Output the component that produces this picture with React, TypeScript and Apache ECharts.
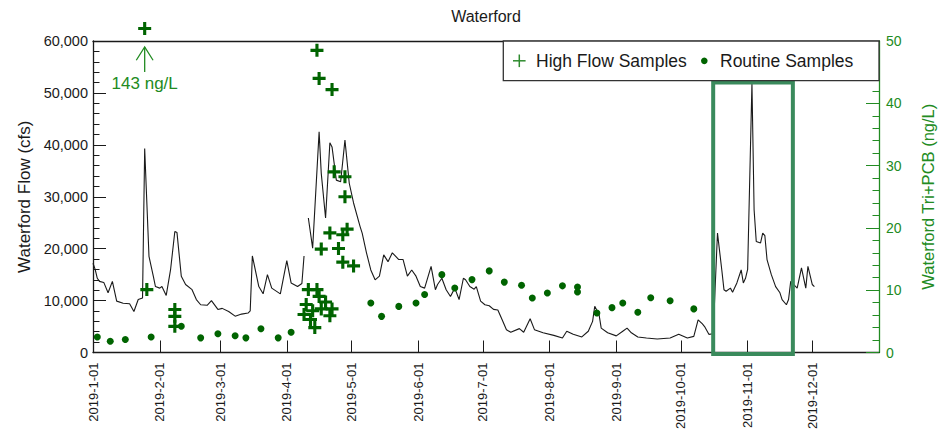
import React, { useEffect, useRef } from 'react';
import * as echarts from 'echarts';

// ---------------- data ----------------
const TITLE = 'Waterford';
const FLOW_NAME = 'Waterford Flow (cfs)';
const CONC_NAME = 'Waterford Tri+PCB (ng/L)';
const HIGH_FLOW_NAME = 'High Flow Samples';
const ROUTINE_NAME = 'Routine Samples';

const MONTH_TICKS = [
  '2019-01-01', '2019-02-01', '2019-03-01', '2019-04-01', '2019-05-01', '2019-06-01',
  '2019-07-01', '2019-08-01', '2019-09-01', '2019-10-01', '2019-11-01', '2019-12-01',
];

// daily flow (cfs), null = gap in record
const FLOW: [string, number | null][] = [
  ['2019-01-01', 17200], ['2019-01-02', 16000], ['2019-01-03', 14300], ['2019-01-04', 13700],
  ['2019-01-06', 13500], ['2019-01-08', 11500], ['2019-01-10', 13700], ['2019-01-12', 9900],
  ['2019-01-15', 9500], ['2019-01-18', 9400], ['2019-01-20', 7900], ['2019-01-22', 10200],
  ['2019-01-24', 10500], ['2019-01-25', 39300], ['2019-01-27', 18500], ['2019-01-29', 14700],
  ['2019-01-30', 12700], ['2019-02-01', 12400], ['2019-02-02', 12700], ['2019-02-04', 11000],
  ['2019-02-06', 15900], ['2019-02-08', 23300], ['2019-02-09', 23100], ['2019-02-11', 14700],
  ['2019-02-13', 13100], ['2019-02-16', 12100], ['2019-02-18', 10200], ['2019-02-20', 9200],
  ['2019-02-23', 9100], ['2019-02-25', 10000], ['2019-02-28', 8300], ['2019-03-02', 8500],
  ['2019-03-05', 7900], ['2019-03-08', 7000], ['2019-03-11', 7400], ['2019-03-14', 7600],
  ['2019-03-15', 8000], ['2019-03-16', 18600], ['2019-03-19', 12700], ['2019-03-21', 11300],
  ['2019-03-23', 15000], ['2019-03-25', 12400], ['2019-03-29', 11300], ['2019-04-01', 17700],
  ['2019-04-03', 13400], ['2019-04-06', 12700], ['2019-04-08', 13300], ['2019-04-09', 18600],
  ['2019-04-10', null],
  ['2019-04-11', 25900], ['2019-04-13', 20100], ['2019-04-16', 42500], ['2019-04-17', 34500],
  ['2019-04-19', 25900], ['2019-04-21', 40400], ['2019-04-22', 39600], ['2019-04-24', 33200],
  ['2019-04-26', 32900], ['2019-04-28', 40900], ['2019-04-30', 32600], ['2019-05-02', 28800],
  ['2019-05-05', 24300], ['2019-05-06', 23000], ['2019-05-08', 19200], ['2019-05-10', 15900],
  ['2019-05-12', 14000], ['2019-05-14', 14700], ['2019-05-16', 18800], ['2019-05-18', 17500],
  ['2019-05-20', 19200], ['2019-05-23', 17900], ['2019-05-25', 17900], ['2019-05-27', 14700],
  ['2019-05-29', 15900], ['2019-05-31', 14700], ['2019-06-02', 12700], ['2019-06-04', 12400],
  ['2019-06-07', 16600], ['2019-06-09', 12100], ['2019-06-10', 13100], ['2019-06-12', 14300],
  ['2019-06-14', 12100], ['2019-06-16', 10800], ['2019-06-18', 12400], ['2019-06-20', 10200],
  ['2019-06-22', 14300], ['2019-06-23', 14000], ['2019-06-25', 12700], ['2019-06-27', 12200],
  ['2019-06-28', 12700], ['2019-06-30', 9900], ['2019-07-02', 9200], ['2019-07-04', 9000],
  ['2019-07-06', 8300], ['2019-07-08', 8200], ['2019-07-10', 6300], ['2019-07-12', 4400],
  ['2019-07-14', 3900], ['2019-07-18', 4600], ['2019-07-20', 3900], ['2019-07-23', 6500],
  ['2019-07-25', 4400], ['2019-07-29', 3800], ['2019-08-03', 3300], ['2019-08-07', 2800],
  ['2019-08-09', 4100], ['2019-08-12', 3500], ['2019-08-16', 3000], ['2019-08-19', 4100],
  ['2019-08-21', 6000], ['2019-08-22', 8900], ['2019-08-24', 7300], ['2019-08-25', 4700],
  ['2019-08-28', 3800], ['2019-09-01', 3200], ['2019-09-04', 4100], ['2019-09-06', 4700],
  ['2019-09-08', 3800], ['2019-09-11', 3000], ['2019-09-15', 2800], ['2019-09-20', 2600],
  ['2019-09-26', 2800], ['2019-09-30', 3500], ['2019-10-04', 2800], ['2019-10-07', 3100],
  ['2019-10-09', 6300], ['2019-10-11', 5500], ['2019-10-12', 5000], ['2019-10-14', 3500],
  ['2019-10-16', 3600], ['2019-10-17', 13400], ['2019-10-18', 23000], ['2019-10-20', 15900],
  ['2019-10-21', 12100], ['2019-10-22', 11800], ['2019-10-24', 12400], ['2019-10-25', 11600],
  ['2019-10-27', 13400], ['2019-10-29', 15900], ['2019-10-30', 13400], ['2019-10-31', 14300],
  ['2019-11-01', 16000], ['2019-11-03', 51800], ['2019-11-04', 27500], ['2019-11-05', 21400],
  ['2019-11-07', 21100], ['2019-11-08', 23000], ['2019-11-09', 22500], ['2019-11-10', 17900],
  ['2019-11-12', 15000], ['2019-11-14', 12700], ['2019-11-16', 11500], ['2019-11-17', 10200],
  ['2019-11-19', 9200], ['2019-11-20', 10200], ['2019-11-21', 13700], ['2019-11-24', 12400],
  ['2019-11-26', 16300], ['2019-11-28', 12400], ['2019-11-29', 16600], ['2019-12-01', 13100],
  ['2019-12-02', 12700],
];

// Tri+PCB (ng/L)
const HIGH_FLOW: [string, number][] = [
  ['2019-01-26', 10.1],
  ['2019-02-08', 6.9], ['2019-02-08', 5.8], ['2019-02-08', 4.2],
  ['2019-04-09', 6.1], ['2019-04-10', 7.7], ['2019-04-11', 10.1], ['2019-04-12', 5.3],
  ['2019-04-13', 6.7], ['2019-04-14', 4.0], ['2019-04-15', 10.1], ['2019-04-16', 9.0],
  ['2019-04-17', 7.0], ['2019-04-19', 8.1], ['2019-04-21', 5.9], ['2019-04-22', 7.0],
  ['2019-04-15', 48.5], ['2019-04-16', 44.0], ['2019-04-22', 42.2],
  ['2019-04-23', 29.0], ['2019-04-28', 28.2], ['2019-04-28', 25.0], ['2019-04-29', 19.8],
  ['2019-04-27', 18.9], ['2019-04-21', 19.2], ['2019-04-17', 16.6], ['2019-04-25', 16.7],
  ['2019-04-27', 14.5], ['2019-05-02', 13.9],
];
const HIGH_FLOW_OFFSCALE: [string, number][] = [['2019-01-25', 143]];

const ROUTINE: [string, number][] = [
  ['2019-01-03', 2.5], ['2019-01-09', 1.8], ['2019-01-16', 2.1], ['2019-01-28', 2.5],
  ['2019-02-11', 4.2], ['2019-02-20', 2.35], ['2019-02-28', 3.0], ['2019-03-08', 2.7],
  ['2019-03-13', 2.35], ['2019-03-20', 3.8], ['2019-03-28', 2.35], ['2019-04-03', 3.25],
  ['2019-05-10', 7.95], ['2019-05-15', 5.8], ['2019-05-23', 7.4], ['2019-05-31', 7.95],
  ['2019-06-04', 9.3], ['2019-06-12', 12.5], ['2019-06-18', 10.35], ['2019-06-26', 11.7],
  ['2019-07-04', 13.1], ['2019-07-11', 11.3], ['2019-07-19', 10.8], ['2019-07-24', 8.75],
  ['2019-07-31', 9.55], ['2019-08-07', 10.7], ['2019-08-14', 10.5], ['2019-08-14', 9.7],
  ['2019-08-23', 6.35], ['2019-08-30', 7.2], ['2019-09-04', 7.95], ['2019-09-11', 6.45],
  ['2019-09-17', 8.8], ['2019-09-26', 8.3], ['2019-10-07', 7.0],
];

const HIGHLIGHT_DATES = ['2019-10-16', '2019-11-22'];
const HIGHLIGHT_FLOW = [-300, 52000];
const X_RANGE = ['2019-01-01', '2020-01-01'];

// ---------------- styling ----------------
const FONT = '"Liberation Sans", Arial, Helvetica, sans-serif';
const INK = '#1a1a1a';
const GREEN = '#228B22';
const MARK_GREEN = '#006400';
const BOX_GREEN = '#3a8a5c';
const OFFSCALE_PLOT_AT = 52; // where the off-scale sample is drawn on the ng/L axis
const PLUS = 'path://M3.8,0H6.2V3.8H10V6.2H6.2V10H3.8V6.2H0V3.8H3.8Z';

const ts = (s: string) => {
  const [y, m, d] = s.split('-').map(Number);
  return new Date(y, m - 1, d).getTime();
};
const fmtDate = (v: number) => {
  const d = new Date(v);
  return `${d.getFullYear()}-${d.getMonth() + 1}-${String(d.getDate()).padStart(2, '0')}`;
};

export default function App() {
  const ref = useRef<HTMLDivElement>(null);

  useEffect(() => {
    if (!ref.current) return;
    const chart = echarts.init(ref.current, undefined, { renderer: 'svg' });
    const monthTs = MONTH_TICKS.map(ts);
    const markerStyle = { color: MARK_GREEN, opacity: 1 };

    chart.setOption({
      animation: false,
      textStyle: { fontFamily: FONT },
      title: {
        text: TITLE,
        left: 486,
        top: 8,
        padding: 0,
        textAlign: 'center',
        textStyle: { fontSize: 16, fontWeight: 'normal', color: INK, fontFamily: FONT },
      },
      grid: { left: 93, right: 72, top: 41, bottom: 79 },
      xAxis: [
        {
          type: 'value',
          min: ts(X_RANGE[0]),
          max: ts(X_RANGE[1]),
          axisLine: { show: true, onZero: false, lineStyle: { color: INK, width: 1.3 } },
          axisTick: { show: true, inside: true, length: 12, customValues: monthTs, lineStyle: { color: INK, width: 1 } },
          axisLabel: {
            rotate: 90,
            margin: 10,
            fontSize: 13,
            color: INK,
            fontFamily: FONT,
            customValues: monthTs,
            formatter: (v: number) => fmtDate(v),
          },
          splitLine: { show: false },
        },
        {
          type: 'value',
          position: 'top',
          min: 0,
          max: 1,
          axisLine: { show: true, onZero: false, lineStyle: { color: INK, width: 1.3 } },
          axisTick: { show: false },
          axisLabel: { show: false },
          splitLine: { show: false },
        },
      ],
      yAxis: [
        {
          type: 'value',
          position: 'left',
          min: 0,
          max: 60000,
          interval: 10000,
          name: FLOW_NAME,
          nameLocation: 'middle',
          nameGap: 57,
          nameRotate: 90,
          nameTextStyle: { fontSize: 17, color: INK, fontFamily: FONT },
          axisLine: { show: true, onZero: false, lineStyle: { color: INK, width: 1.3 } },
          axisTick: { show: true, inside: true, length: 13, lineStyle: { color: INK, width: 1 } },
          minorTick: { show: true, splitNumber: 5, length: 6.5, lineStyle: { color: INK, width: 1 } },
          axisLabel: {
            fontSize: 14.5,
            margin: 5,
            color: INK,
            fontFamily: FONT,
            formatter: (v: number) => Number(v).toLocaleString('en-US'),
          },
          splitLine: { show: false },
        },
        {
          type: 'value',
          position: 'right',
          min: 0,
          max: 50,
          interval: 10,
          name: CONC_NAME,
          nameLocation: 'middle',
          nameGap: 40,
          nameRotate: 90,
          nameTextStyle: { fontSize: 16.5, color: GREEN, fontFamily: FONT },
          axisLine: { show: true, onZero: false, lineStyle: { color: GREEN, width: 1.3 } },
          axisTick: { show: true, inside: true, length: 13, lineStyle: { color: GREEN, width: 1 } },
          minorTick: { show: true, splitNumber: 5, length: 6.5, lineStyle: { color: GREEN, width: 1 } },
          axisLabel: { fontSize: 14, margin: 7, color: GREEN, fontFamily: FONT },
          splitLine: { show: false },
        },
      ],
      series: [
        {
          name: FLOW_NAME,
          type: 'line',
          xAxisIndex: 0,
          yAxisIndex: 0,
          data: FLOW.map(([d, v]) => [ts(d), v === null ? '-' : v]),
          showSymbol: false,
          symbol: 'none',
          connectNulls: false,
          lineStyle: { color: INK, width: 1.1 },
          z: 2,
        },
        {
          name: HIGH_FLOW_NAME,
          type: 'scatter',
          xAxisIndex: 0,
          yAxisIndex: 1,
          data: HIGH_FLOW.map(([d, v]) => [ts(d), v]),
          symbol: PLUS,
          symbolSize: 13,
          itemStyle: markerStyle,
          z: 3,
        },
        {
          name: HIGH_FLOW_NAME + ' (off scale)',
          type: 'scatter',
          xAxisIndex: 0,
          yAxisIndex: 1,
          clip: false,
          data: HIGH_FLOW_OFFSCALE.map(([d]) => [ts(d), OFFSCALE_PLOT_AT]),
          symbol: PLUS,
          symbolSize: 13,
          itemStyle: markerStyle,
          z: 3,
        },
        {
          name: ROUTINE_NAME,
          type: 'scatter',
          xAxisIndex: 0,
          yAxisIndex: 1,
          data: ROUTINE.map(([d, v]) => [ts(d), v]),
          symbol: 'circle',
          symbolSize: 7,
          itemStyle: markerStyle,
          z: 3,
        },
      ],
    });

    const toPx = (d: string, v: number, yIdx: number) =>
      chart.convertToPixel({ xAxisIndex: 0, yAxisIndex: yIdx } as any, [ts(d), v]) as number[];

    const [bx1, by1] = toPx(HIGHLIGHT_DATES[0], HIGHLIGHT_FLOW[1], 0);
    const [bx2, by2] = toPx(HIGHLIGHT_DATES[1], HIGHLIGHT_FLOW[0], 0);
    const [ax, ay] = toPx(HIGH_FLOW_OFFSCALE[0][0], OFFSCALE_PLOT_AT, 1);

    // legend geometry: box spans from its left edge to the right axis, top aligned with plot
    const [, plotTop] = toPx(X_RANGE[0], 50, 1);
    const [plotRight] = toPx(X_RANGE[1], 0, 1);
    const lgLeft = 503.3;
    const lgH = 39.6;
    const lgMid = plotTop + lgH / 2;

    chart.setOption({
      graphic: [
        {
          type: 'rect',
          z: 50,
          shape: { x: bx1, y: by1, width: bx2 - bx1, height: by2 - by1 },
          style: { fill: 'none', stroke: BOX_GREEN, lineWidth: 4 },
        },
        {
          type: 'line',
          z: 50,
          shape: { x1: ax, y1: ay + 18.4, x2: ax, y2: ay + 43.4 },
          style: { stroke: GREEN, lineWidth: 1.3 },
        },
        {
          type: 'polyline',
          z: 50,
          shape: { points: [[ax - 8.4, ay + 31.7], [ax, ay + 18.4], [ax + 8.4, ay + 31.7]] },
          style: { stroke: GREEN, lineWidth: 1.3, fill: 'none' },
        },
        {
          type: 'text',
          z: 50,
          x: ax,
          y: ay + 55,
          style: {
            text: `${HIGH_FLOW_OFFSCALE[0][1]} ng/L`,
            fill: GREEN,
            fontSize: 17,
            fontFamily: FONT,
            align: 'center',
            verticalAlign: 'middle',
          },
        },
        {
          type: 'group',
          z: 100,
          children: [
            {
              type: 'rect',
              z: 100,
              shape: { x: lgLeft, y: plotTop, width: plotRight - lgLeft, height: lgH },
              style: { fill: '#ffffff', stroke: '#333333', lineWidth: 1.3 },
            },
            {
              type: 'line',
              z: 101,
              shape: { x1: 513, y1: lgMid, x2: 525.6, y2: lgMid },
              style: { stroke: '#2e8b2e', lineWidth: 1.5 },
            },
            {
              type: 'line',
              z: 101,
              shape: { x1: 519.3, y1: lgMid - 6.3, x2: 519.3, y2: lgMid + 6.3 },
              style: { stroke: '#2e8b2e', lineWidth: 1.5 },
            },
            {
              type: 'text',
              z: 101,
              x: 536,
              y: lgMid,
              style: { text: HIGH_FLOW_NAME, fill: INK, fontSize: 17.5, fontFamily: FONT, align: 'left', verticalAlign: 'middle' },
            },
            {
              type: 'circle',
              z: 101,
              shape: { cx: 704.3, cy: lgMid, r: 3.3 },
              style: { fill: MARK_GREEN },
            },
            {
              type: 'text',
              z: 101,
              x: 720,
              y: lgMid,
              style: { text: ROUTINE_NAME, fill: INK, fontSize: 17.5, fontFamily: FONT, align: 'left', verticalAlign: 'middle' },
            },
          ],
        },
      ],
    });

    return () => chart.dispose();
  }, []);

  return (
    <div
      ref={ref}
      style={{ position: 'absolute', left: 0, top: 0, width: 951, height: 432, background: '#ffffff' }}
    />
  );
}
